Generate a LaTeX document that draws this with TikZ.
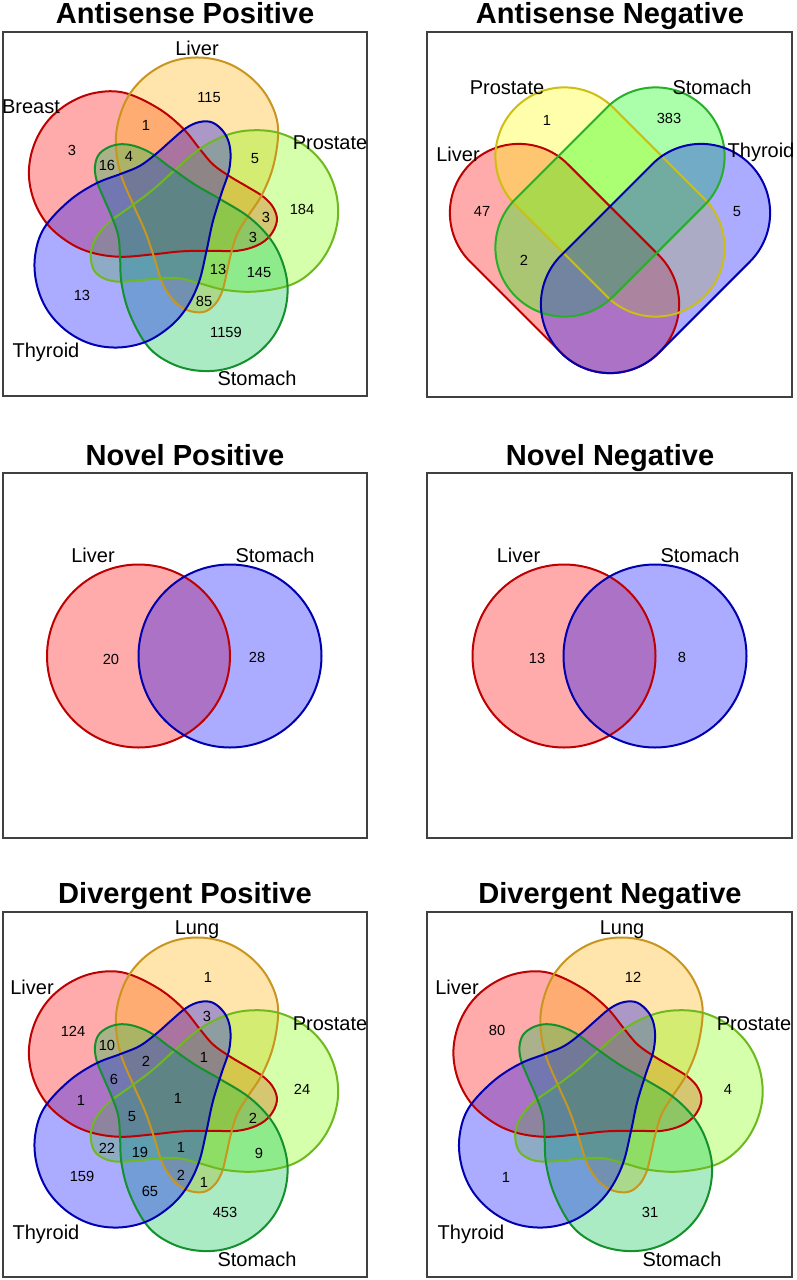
\documentclass[tikz,border=0pt]{standalone}
\usepackage{fontspec}
\setmainfont{Liberation Sans}
\definecolor{cRed}{RGB}{255,0,0}
\definecolor{cRedD}{RGB}{190,0,0}
\definecolor{cOrg}{RGB}{255,175,0}
\definecolor{cOrgD}{RGB}{200,150,30}
\definecolor{cYG}{RGB}{128,255,0}
\definecolor{cYGD}{RGB}{110,185,30}
\definecolor{cGr}{RGB}{0,195,75}
\definecolor{cGrD}{RGB}{20,145,45}
\definecolor{cBl}{RGB}{0,0,255}
\definecolor{cBlD}{RGB}{0,0,175}
\definecolor{cYel}{RGB}{255,255,0}
\definecolor{cYelD}{RGB}{205,190,20}
\definecolor{cGrn}{RGB}{0,255,0}
\definecolor{cGrnD}{RGB}{40,175,40}
\tikzset{
 numst/.style={font=\fontsize{11}{13}\selectfont, anchor=base, yshift=-3.9pt, inner sep=0pt},
 labst/.style={font=\fontsize{15}{18}\selectfont, anchor=base, yshift=-5.4pt, inner sep=0pt},
 titst/.style={font=\fontsize{21.8}{26}\selectfont\bfseries, anchor=base, yshift=-7.8pt, inner sep=0pt},
 boxst/.style={draw=black!75, line width=1pt},
 setfill/.style={fill=#1, fill opacity=0.33},
 setline/.style={draw=#1, line width=1.5pt},
}
\def\petal{plot[smooth cycle, tension=0.6] coordinates {(-53,123) (-82,123) (-108,113) (-129.5,95) (-143.5,70.5) (-148.5,43) (-143.5,15.5) (-129.5,-9) (-108,-27) (-85,-37) (-57,-41) (-24,-38.5) (5,-35.5) (35,-35) (60,-35) (80,-29.5) (93,-19.5) (99.5,-5) (96,8) (86,19) (70,29) (53,39) (36,51) (23,66) (5,88) (-20,108)}}
\newcommand\fiveV[2]{%
\begin{scope}[shift={(177.4+#1,-215.8-#2)}]
 \fill[setfill=cRed] \petal;
 \fill[setfill=cOrg, rotate=-72] \petal;
 \fill[setfill=cYG, rotate=-144] \petal;
 \fill[setfill=cGr, rotate=-216] \petal;
 \fill[setfill=cBl, rotate=72] \petal;
 \draw[setline=cRedD] \petal;
 \draw[setline=cOrgD, rotate=-72] \petal;
 \draw[setline=cYGD, rotate=-144] \petal;
 \draw[setline=cGrD, rotate=-216] \petal;
 \draw[setline=cBlD, rotate=72] \petal;
\end{scope}}
\newcommand\stad[3]{%
\begin{scope}[shift={#1}, rotate=#2]
 \path[#3] (-64.5,-69) -- (64.5,-69) arc[start angle=-90, end angle=90, radius=69] -- (-64.5,69) arc[start angle=90, end angle=270, radius=69] -- cycle;
\end{scope}}
\begin{document}
\begin{tikzpicture}[x=0.75pt, y=0.75pt]
\useasboundingbox (0,0) rectangle (796,-1280);
\fill[white] (0,0) rectangle (796,-1280);

% ---------- Panel 1: Antisense Positive ----------
\node[titst] (t1) at (185,-13) {Antisense Positive};
\draw[boxst] (3,-32) rectangle (367,-396);
\fiveV{0}{0}
\node[labst] (a-liv) at (197,-48) {Liver};
\node[labst] (a-bre) at (31,-106) {Breast};
\node[labst] (a-pro) at (330,-142) {Prostate};
\node[labst] (a-thy) at (46,-350) {Thyroid};
\node[labst] (a-sto) at (257,-378) {Stomach};
\node[numst] (a1) at (209,-97) {115};
\node[numst] (a2) at (72,-150) {3};
\node[numst] (a3) at (146,-125) {1};
\node[numst] (a4) at (107,-165) {16};
\node[numst] (a5) at (129,-156) {4};
\node[numst] (a6) at (255,-158) {5};
\node[numst] (a7) at (302,-209) {184};
\node[numst] (a8) at (266,-217) {3};
\node[numst] (a9) at (253,-237) {3};
\node[numst] (a10) at (218,-269) {13};
\node[numst] (a11) at (259,-272) {145};
\node[numst] (a12) at (82,-295) {13};
\node[numst] (a13) at (204,-301) {85};
\node[numst] (a14) at (226,-332) {1159};

% ---------- Panel 2: Antisense Negative ----------
\node[titst] (t2) at (610,-13) {Antisense Negative};
\draw[boxst] (427,-32) rectangle (792,-397);
\stad{(564.5,-258.5)}{-45}{setfill=cRed}
\stad{(610,-202)}{-45}{setfill=cYel}
\stad{(610,-202)}{45}{setfill=cGrn}
\stad{(655.5,-258.5)}{45}{setfill=cBl}
\stad{(564.5,-258.5)}{-45}{setline=cRedD}
\stad{(610,-202)}{-45}{setline=cYelD}
\stad{(610,-202)}{45}{setline=cGrnD}
\stad{(655.5,-258.5)}{45}{setline=cBlD}
\node[labst] (b-pro) at (507,-87) {Prostate};
\node[labst] (b-sto) at (712,-87) {Stomach};
\node[labst] (b-liv) at (458,-154) {Liver};
\node[labst] (b-thy) at (761,-150) {Thyroid};
\node[numst] (b1) at (547,-120) {1};
\node[numst] (b2) at (669,-118) {383};
\node[numst] (b3) at (482,-211) {47};
\node[numst] (b4) at (737,-211) {5};
\node[numst] (b5) at (524,-260) {2};

% ---------- Panel 3: Novel Positive ----------
\node[titst] (t3) at (185,-455) {Novel Positive};
\draw[boxst] (3,-473) rectangle (367,-838);
\fill[setfill=cRed] (138.5,-656) circle[radius=91.5];
\fill[setfill=cBl] (230,-656) circle[radius=91.5];
\draw[setline=cRedD] (138.5,-656) circle[radius=91.5];
\draw[setline=cBlD] (230,-656) circle[radius=91.5];
\node[labst] (c-liv) at (93,-555) {Liver};
\node[labst] (c-sto) at (275,-555) {Stomach};
\node[numst] (c1) at (111,-659) {20};
\node[numst] (c2) at (257,-657) {28};

% ---------- Panel 4: Novel Negative ----------
\node[titst] (t4) at (610,-455) {Novel Negative};
\draw[boxst] (427,-473) rectangle (792,-838);
\fill[setfill=cRed] (564,-656) circle[radius=91.5];
\fill[setfill=cBl] (655,-656) circle[radius=91.5];
\draw[setline=cRedD] (564,-656) circle[radius=91.5];
\draw[setline=cBlD] (655,-656) circle[radius=91.5];
\node[labst] (d-liv) at (518.5,-555) {Liver};
\node[labst] (d-sto) at (700,-555) {Stomach};
\node[numst] (d1) at (537,-658) {13};
\node[numst] (d2) at (682,-657) {8};

% ---------- Panel 5: Divergent Positive ----------
\node[titst] (t5) at (185,-893) {Divergent Positive};
\draw[boxst] (3,-912) rectangle (367,-1277);
\fiveV{0}{880}
\node[labst] (e-lun) at (197,-927) {Lung};
\node[labst] (e-liv) at (32,-987) {Liver};
\node[labst] (e-pro) at (330,-1023) {Prostate};
\node[labst] (e-thy) at (46,-1232) {Thyroid};
\node[labst] (e-sto) at (257,-1259) {Stomach};
\node[numst] (e1) at (208,-977) {1};
\node[numst] (e2) at (73,-1031) {124};
\node[numst] (e3) at (207,-1016) {3};
\node[numst] (e4) at (107,-1045) {10};
\node[numst] (e5) at (146,-1061) {2};
\node[numst] (e6) at (204,-1057) {1};
\node[numst] (e7) at (114,-1079) {6};
\node[numst] (e8) at (81,-1100) {1};
\node[numst] (e9) at (178,-1098) {1};
\node[numst] (e10) at (132,-1116) {5};
\node[numst] (e11) at (302,-1089) {24};
\node[numst] (e12) at (253,-1118) {2};
\node[numst] (e13) at (107,-1148) {22};
\node[numst] (e14) at (140,-1152) {19};
\node[numst] (e15) at (181,-1147) {1};
\node[numst] (e16) at (259,-1153) {9};
\node[numst] (e17) at (82,-1176) {159};
\node[numst] (e18) at (181,-1175) {2};
\node[numst] (e19) at (204,-1182) {1};
\node[numst] (e20) at (150,-1191) {65};
\node[numst] (e21) at (225,-1212) {453};

% ---------- Panel 6: Divergent Negative ----------
\node[titst] (t6) at (610,-893) {Divergent Negative};
\draw[boxst] (427,-912) rectangle (792,-1277);
\fiveV{424.5}{880}
\node[labst] (f-lun) at (622,-927) {Lung};
\node[labst] (f-liv) at (457,-987) {Liver};
\node[labst] (f-pro) at (754,-1023) {Prostate};
\node[labst] (f-thy) at (471,-1232) {Thyroid};
\node[labst] (f-sto) at (682,-1259) {Stomach};
\node[numst] (f1) at (633,-977) {12};
\node[numst] (f2) at (497,-1030) {80};
\node[numst] (f3) at (728,-1089) {4};
\node[numst] (f4) at (506,-1177) {1};
\node[numst] (f5) at (650,-1212) {31};
\end{tikzpicture}
\end{document}
